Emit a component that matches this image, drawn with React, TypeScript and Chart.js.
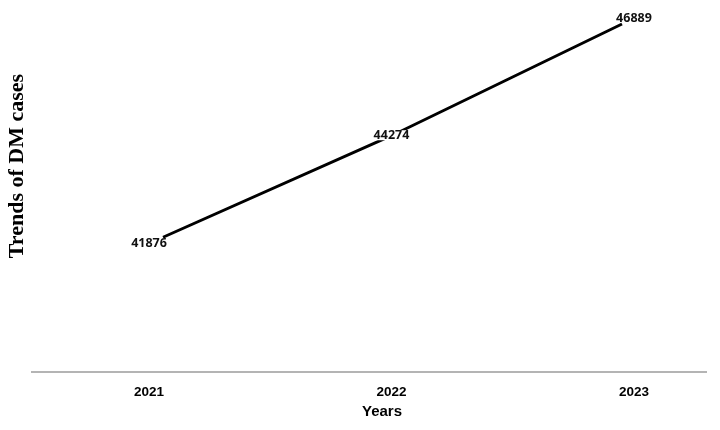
import React, { useEffect, useRef } from "react";
import { Chart, registerables } from "chart.js";

Chart.register(...registerables);

const years: number[] = [2021, 2022, 2023];
const yearLabels: string[] = ["2021", "2022", "2023"];
const dmCases: number[] = [41876, 44274, 46889];
const yTitle = "Trends of DM cases";
const xTitle = "Years";

const valueLabels = {
  id: "valueLabels",
  afterDatasetsDraw(chart: any) {
    const { ctx, scales } = chart;
    ctx.save();
    ctx.font = "bold 12.5px 'Open Sans', 'Noto Sans', sans-serif";
    ctx.textAlign = "center";
    ctx.textBaseline = "middle";
    const last = dmCases.length - 1;
    dmCases.forEach((v, i) => {
      const x = scales.x.getPixelForValue(years[i]);
      const off = i === 0 ? 6 : i === last ? -6 : 0;
      const y = scales.y.getPixelForValue(v) + off;
      const w = ctx.measureText(String(v)).width;
      if (i !== 0 && i !== last) {
        ctx.fillStyle = "#fff";
        ctx.fillRect(x - w / 2 - 1, y - 5, w + 2, 10);
      }
      ctx.fillStyle = "#111";
      ctx.fillText(String(v), x, y);
    });
    ctx.restore();
  },
};

const titlesPlugin = {
  id: "titlesPlugin",
  afterDraw(chart: any) {
    const { ctx } = chart;
    ctx.save();
    ctx.fillStyle = "#000";
    ctx.textAlign = "center";
    ctx.textBaseline = "middle";
    ctx.font = "bold 15px 'Liberation Sans', Arial, sans-serif";
    ctx.fillText(xTitle, 382, 412);
    ctx.translate(17, 166);
    ctx.rotate(-Math.PI / 2);
    ctx.font = "bold 22px 'Liberation Serif', 'Times New Roman', serif";
    ctx.fillText(yTitle, 0, 0);
    ctx.restore();
  },
};

export default function App() {
  const ref = useRef<HTMLCanvasElement | null>(null);
  useEffect(() => {
    if (!ref.current) return;
    const chart = new Chart(ref.current, {
      type: "line",
      data: {
        datasets: [
          {
            data: years.map((y, i) => ({ x: y, y: dmCases[i] })),
            xAxisID: "x2",
            yAxisID: "y",
            borderColor: "#000",
            borderWidth: 3,
            pointRadius: 0,
            tension: 0,
            fill: false,
          },
        ],
      },
      options: {
        animation: false,
        responsive: false,
        maintainAspectRatio: false,
        layout: { padding: { left: 32, right: 14, top: 10, bottom: 17.4 } },
        plugins: { legend: { display: false }, tooltip: { enabled: false } },
        scales: {
          x: {
            type: "linear",
            position: "bottom",
            min: 2020.5175,
            max: 2023.297,
            afterBuildTicks: (scale: any) => {
              scale.ticks = years.map((v) => ({ value: v }));
            },
            grid: { display: false, drawTicks: false, tickLength: 0 },
            border: { display: true, color: "#b4b4b4", width: 2 },
            ticks: {
              padding: 12,
              color: "#000",
              font: { family: "'Liberation Sans', Arial, sans-serif", size: 13.5, weight: "bold" },
              callback: (v: any) => {
                const i = years.indexOf(Number(v));
                return i >= 0 ? yearLabels[i] : "";
              },
              maxRotation: 0,
            },
            title: { display: false },
          },
          x2: {
            type: "linear",
            display: false,
            min: 2020.429,
            max: 2023.366,
          },
          y: {
            type: "linear",
            display: false,
            min: 38699,
            max: 47218,
          },
        },
      },
      plugins: [valueLabels, titlesPlugin],
    } as any);
    return () => chart.destroy();
  }, []);
  return (
    <div style={{ position: "fixed", left: 0, top: 0, width: 720, height: 430, background: "#fff" }}>
      <canvas ref={ref} width={720} height={430} style={{ width: 720, height: 430 }} />
    </div>
  );
}
